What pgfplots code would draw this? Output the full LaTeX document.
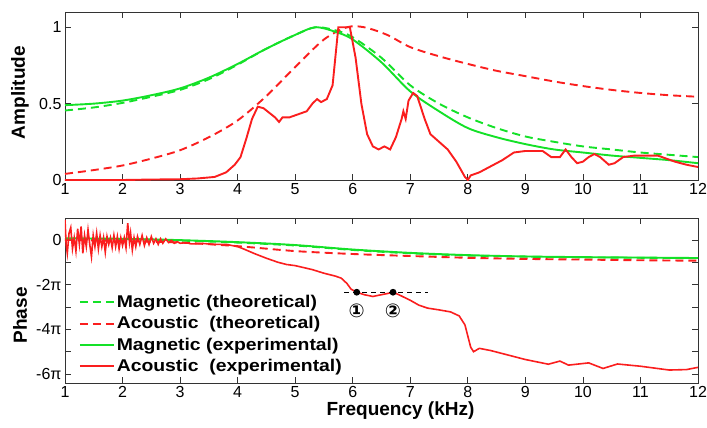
\documentclass[border=0pt]{standalone}
\usepackage{pgfplots}
\pgfplotsset{compat=1.18}
\usepackage{fontspec}
\setmainfont{Liberation Sans}
\newfontfamily\legfont[FakeStretch=1.14]{Liberation Sans}
\newfontfamily\symfont{DejaVu Sans}
\definecolor{mgreen}{RGB}{20,225,40}
\definecolor{mred}{RGB}{250,30,30}
\pgfplotsset{
  myaxis/.style={
    scale only axis, width=633pt, xmin=1, xmax=12, xtick={1,...,12},
    tick align=inside, tick pos=both, major tick length=6pt,
    axis line style={black!80, line width=0.7pt},
    tick style={black!80, line width=0.7pt},
    /pgf/number format/assume math mode=true,
    tick label style={font=\fontsize{16}{18}\selectfont},
    every axis plot/.append style={line width=1.9pt},
    label style={font=\bfseries\fontsize{19}{21}\selectfont},
  },
  mdash/.style={dash pattern=on 8pt off 5pt},
}
\begin{document}
\begin{tikzpicture}
\useasboundingbox (-65pt,12pt) rectangle (642pt,-416pt);
% ---------- Amplitude ----------
\begin{axis}[myaxis, at={(0pt,0pt)}, anchor=north west, height=168pt,
  ymin=0, ymax=1.1, ytick={0,0.5,1}, yticklabels={0,0.5,1},
  ylabel={Amplitude}, ylabel style={at={(axis description cs:-0.071,0.52)}, anchor=center}]
% magnetic theoretical
\addplot[mgreen, mdash, smooth] coordinates {(1,0.455)(1.5,0.475)(2,0.505)(2.5,0.545)(3,0.59)(3.5,0.66)(4,0.755)(4.5,0.86)(5,0.95)(5.35,1.0)(5.7,0.98)(6,0.935)(6.5,0.8)(7,0.62)(7.5,0.5)(8,0.41)(8.5,0.34)(9,0.285)(9.5,0.25)(10,0.22)(10.5,0.2)(11,0.18)(11.5,0.165)(12,0.15)};
% acoustic theoretical
\addplot[mred, mdash, smooth] coordinates {(1,0.04)(1.5,0.065)(2,0.095)(2.5,0.14)(3,0.195)(3.5,0.28)(4,0.39)(4.5,0.55)(5,0.74)(5.5,0.92)(5.9,1.0)(6.2,1.0)(6.6,0.95)(7,0.87)(7.5,0.81)(8,0.76)(8.5,0.715)(9,0.68)(9.5,0.645)(10,0.615)(10.5,0.59)(11,0.57)(11.5,0.555)(12,0.545)};
% magnetic experimental
\addplot[mgreen, smooth] coordinates {(1,0.49)(1.5,0.5)(2,0.52)(2.5,0.555)(3,0.6)(3.5,0.67)(4,0.76)(4.5,0.86)(5,0.95)(5.35,1.0)(5.7,0.97)(6,0.92)(6.5,0.77)(7,0.58)(7.5,0.45)(8,0.34)(8.5,0.28)(9,0.235)(9.5,0.2)(10,0.18)(10.5,0.16)(11,0.145)(11.5,0.13)(12,0.11)};
% acoustic experimental
\addplot[mred] coordinates {(1,0.0)(2,0.0)(2.5,0.003)(3,0.005)(3.3,0.01)(3.6,0.02)(3.8,0.05)(3.95,0.1)(4.05,0.15)(4.15,0.27)(4.25,0.4)(4.35,0.48)(4.45,0.47)(4.55,0.44)(4.65,0.41)(4.72,0.38)(4.78,0.41)(4.9,0.41)(5.05,0.43)(5.2,0.45)(5.3,0.5)(5.38,0.53)(5.45,0.51)(5.55,0.53)(5.65,0.62)(5.75,1.0)(5.95,1.0)(6.05,0.8)(6.15,0.5)(6.25,0.3)(6.35,0.22)(6.45,0.2)(6.55,0.22)(6.65,0.2)(6.75,0.28)(6.85,0.4)(6.88,0.45)(6.92,0.4)(6.97,0.52)(7.05,0.57)(7.12,0.55)(7.25,0.4)(7.35,0.3)(7.5,0.25)(7.65,0.2)(7.8,0.12)(7.95,0.02)(8.0,0.0)(8.05,0.03)(8.2,0.05)(8.4,0.09)(8.6,0.13)(8.8,0.18)(9.0,0.19)(9.3,0.19)(9.45,0.15)(9.6,0.15)(9.7,0.2)(9.8,0.15)(9.9,0.11)(10.0,0.12)(10.1,0.15)(10.2,0.17)(10.3,0.15)(10.45,0.1)(10.55,0.11)(10.7,0.15)(10.9,0.16)(11.3,0.16)(11.45,0.14)(11.6,0.12)(11.8,0.1)(12,0.085)};
\end{axis}
% ---------- Phase ----------
\begin{axis}[myaxis, at={(0pt,-206pt)}, anchor=north west, height=165pt,
  ymin=-6.4, ymax=0.98, ytick={-6,...,0}, yticklabels={-6π,,-4π,,-2π,,0},
  ylabel={Phase}, ylabel style={at={(axis description cs:-0.071,0.41)}, anchor=center},
  xlabel={Frequency (kHz)}, xlabel style={at={(axis description cs:0.53,-0.17)}, anchor=center},
  legend cell align=left,
  legend style={draw=none, fill=none, at={(0.02,0.55)}, anchor=north west,
    font=\legfont\bfseries\fontsize{17}{21}\selectfont, row sep=3.4pt, inner sep=1pt},
  legend image code/.code={\draw[#1, line width=1.9pt] (0pt,0pt) -- (34pt,0pt);},
  ]
\addplot[mgreen, mdash, smooth] coordinates {(1,0.05)(2,0.03)(3,-0.03)(4,-0.12)(5,-0.25)(6,-0.45)(7,-0.6)(8,-0.7)(9,-0.75)(10,-0.78)(11,-0.8)(12,-0.82)};
\addlegendentry{Magnetic (theoretical)}
\addplot[mred, mdash, smooth] coordinates {(1,0.0)(2,-0.05)(3,-0.12)(4,-0.28)(5,-0.5)(6,-0.63)(7,-0.72)(8,-0.8)(9,-0.85)(10,-0.88)(11,-0.91)(12,-0.93)};
\addlegendentry{Acoustic\ \ (theoretical)}
\addplot[mgreen, smooth] coordinates {(1,0.07)(2,0.05)(3,-0.01)(4,-0.1)(5,-0.23)(6,-0.43)(7,-0.58)(8,-0.68)(9,-0.74)(10,-0.77)(11,-0.79)(12,-0.81)};
\addlegendentry{Magnetic (experimental)}
\addplot[mred, line width=1.6pt] coordinates {(1.00,0.9)(1.02,-0.2)(1.04,-0.6)(1.07,0.3)(1.10,0.55)(1.13,-0.4)(1.16,0.1)(1.19,-0.5)(1.22,0.5)(1.25,-0.2)(1.28,0.6)(1.31,-0.6)(1.34,0.2)(1.37,-0.3)(1.40,0.45)(1.43,-0.2)(1.46,-0.75)(1.49,0.2)(1.52,-0.3)(1.55,0.3)(1.58,-0.4)(1.61,0.2)(1.64,-0.3)(1.67,0.1)(1.70,-0.55)(1.73,0.15)(1.76,-0.2)(1.79,0.1)(1.82,-0.35)(1.85,0.2)(1.88,-0.3)(1.91,0.15)(1.94,-0.4)(1.97,0.1)(2.00,-0.25)(2.03,0.1)(2.06,-0.35)(2.09,0.75)(2.12,-0.1)(2.14,0.3)(2.17,-0.45)(2.20,0.1)(2.23,-0.3)(2.26,0.15)(2.30,-0.2)(2.34,0.2)(2.38,-0.25)(2.42,0.1)(2.46,-0.2)(2.50,0.15)(2.54,-0.15)(2.58,0.05)(2.62,-0.2)(2.66,0.05)(2.70,-0.15)(2.75,0.05)(2.80,-0.12)(2.85,-0.02)(2.90,-0.15)(2.95,-0.08)(3.0,-0.15)(3.1,-0.12)(3.2,-0.18)(3.4,-0.16)(3.6,-0.2)(3.8,-0.2)(4.0,-0.3)(4.1,-0.4)(4.3,-0.62)(4.5,-0.82)(4.7,-1.0)(4.85,-1.1)(5.0,-1.15)(5.3,-1.33)(5.5,-1.49)(5.7,-1.62)(5.8,-1.71)(5.9,-1.95)(5.97,-2.2)(6.07,-2.34)(6.2,-2.45)(6.35,-2.53)(6.5,-2.45)(6.6,-2.4)(6.7,-2.34)(6.8,-2.45)(7.0,-2.7)(7.15,-2.92)(7.3,-3.05)(7.5,-3.13)(7.7,-3.22)(7.85,-3.4)(7.95,-3.8)(8.0,-4.3)(8.05,-4.8)(8.1,-5.0)(8.2,-4.85)(8.4,-4.95)(8.7,-5.15)(9.0,-5.35)(9.4,-5.56)(9.6,-5.42)(9.75,-5.6)(10.1,-5.5)(10.35,-5.75)(10.6,-5.55)(11.0,-5.65)(11.5,-5.82)(11.8,-5.8)(12,-5.7)};
\addlegendentry{Acoustic\ \ (experimental)}
\addplot[black, line width=0.9pt, dash pattern=on 5pt off 4pt, forget plot] coordinates {(5.85,-2.34)(7.3,-2.34)};
\addplot[black, only marks, mark=*, mark size=2.4pt, forget plot] coordinates {(6.07,-2.34)(6.7,-2.34)};
\node[font=\symfont\bfseries\fontsize{19}{21}\selectfont] at (axis cs:6.07,-3.18) {①};
\node[font=\symfont\bfseries\fontsize{19}{21}\selectfont] at (axis cs:6.7,-3.18) {②};
\end{axis}
\end{tikzpicture}
\end{document}
